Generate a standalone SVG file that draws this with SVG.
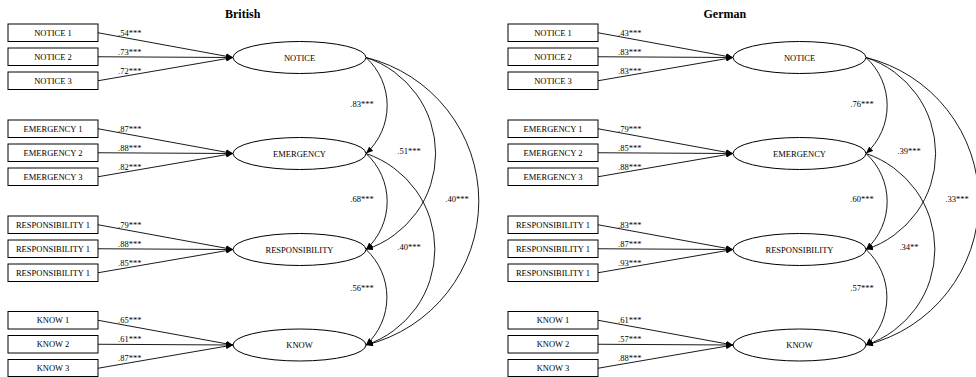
<svg xmlns="http://www.w3.org/2000/svg" width="976" height="377" viewBox="0 0 976 377">
<style>
text{font-family:"Liberation Serif","Times New Roman",serif;font-size:8.5px;fill:#000}
.t{font-size:12px;font-weight:bold}
.n text,.l{text-anchor:middle}
.n rect,.n ellipse{fill:#fff;stroke:#000;stroke-width:1}
.c path{fill:none;stroke:#000;stroke-width:0.9;marker-end:url(#ah)}
</style>
<defs>
<marker id="ah" markerUnits="userSpaceOnUse" markerWidth="8" markerHeight="6" refX="7" refY="3" orient="auto">
<path d="M0,0 L7,3 L0,6 z" fill="#000"/>
</marker>
</defs>
<rect width="976" height="377" fill="#fff"/>
<text class="t" x="225" y="18">British</text>
<text class="t" x="703.5" y="18">German</text>

<!-- British panel -->
<g id="british">
<g class="c" id="british-connectors">
<path d="M98,32.75 L233,57.5"/><path d="M98,56.75 L233,57.5"/><path d="M98,80.75 L233,57.5"/>
<path d="M98,128.75 L233,153.5"/><path d="M98,152.75 L233,153.5"/><path d="M98,176.75 L233,153.5"/>
<path d="M98,224.75 L233,249.5"/><path d="M98,248.75 L233,249.5"/><path d="M98,272.75 L233,249.5"/>
<path d="M98,320.25 L233,345"/><path d="M98,344.25 L233,345"/><path d="M98,368.25 L233,345"/>
<path d="M366,57.5 A65,65 0 0 1 366,153.5"/>
<path d="M366,153.5 A65,65 0 0 1 366,249.5"/>
<path d="M366,249.5 A65,65 0 0 1 366,345"/>
<path d="M366,57.5 A101,101 0 0 1 366,249.5"/>
<path d="M366,153.5 A101,101 0 0 1 366,345"/>
<path d="M366,57.5 A148,148 0 0 1 366,345"/>
</g>
<g id="british-labels">
<text x="118" y="35.5">.54***</text><text x="118" y="54.5">.73***</text><text x="118" y="73.5">.72***</text>
<text x="118" y="131.5">.87***</text><text x="118" y="150.5">.88***</text><text x="118" y="169.5">.82***</text>
<text x="118" y="227.5">.79***</text><text x="118" y="246.5">.88***</text><text x="118" y="265.5">.85***</text>
<text x="118" y="323">.65***</text><text x="118" y="342">.61***</text><text x="118" y="361">.87***</text>
<text class="l" x="362" y="106.5">.83***</text>
<text class="l" x="409" y="154">.51***</text>
<text class="l" x="457" y="202">.40***</text>
<text class="l" x="362" y="202">.68***</text>
<text class="l" x="409" y="249.5">.40***</text>
<text class="l" x="362" y="291">.56***</text>
</g>
<g class="n" id="british-notice1"><rect x="8" y="24" width="90" height="17.5"/><text x="53" y="35.75">NOTICE 1</text></g>
<g class="n" id="british-notice2"><rect x="8" y="48" width="90" height="17.5"/><text x="53" y="59.75">NOTICE 2</text></g>
<g class="n" id="british-notice3"><rect x="8" y="72" width="90" height="17.5"/><text x="53" y="83.75">NOTICE 3</text></g>
<g class="n" id="british-emergency1"><rect x="8" y="120" width="90" height="17.5"/><text x="53" y="131.75">EMERGENCY 1</text></g>
<g class="n" id="british-emergency2"><rect x="8" y="144" width="90" height="17.5"/><text x="53" y="155.75">EMERGENCY 2</text></g>
<g class="n" id="british-emergency3"><rect x="8" y="168" width="90" height="17.5"/><text x="53" y="179.75">EMERGENCY 3</text></g>
<g class="n" id="british-resp1"><rect x="8" y="216" width="90" height="17.5"/><text x="53" y="227.75">RESPONSIBILITY 1</text></g>
<g class="n" id="british-resp2"><rect x="8" y="240" width="90" height="17.5"/><text x="53" y="251.75">RESPONSIBILITY 1</text></g>
<g class="n" id="british-resp3"><rect x="8" y="264" width="90" height="17.5"/><text x="53" y="275.75">RESPONSIBILITY 1</text></g>
<g class="n" id="british-know1"><rect x="8" y="311.5" width="90" height="17.5"/><text x="53" y="323.25">KNOW 1</text></g>
<g class="n" id="british-know2"><rect x="8" y="335.5" width="90" height="17.5"/><text x="53" y="347.25">KNOW 2</text></g>
<g class="n" id="british-know3"><rect x="8" y="359.5" width="90" height="17"/><text x="53" y="371.25">KNOW 3</text></g>
<g class="n" id="british-notice"><ellipse cx="299.5" cy="57.5" rx="66.5" ry="16"/><text x="299.5" y="60.5">NOTICE</text></g>
<g class="n" id="british-emergency"><ellipse cx="299.5" cy="153.5" rx="66.5" ry="16"/><text x="299.5" y="156.5">EMERGENCY</text></g>
<g class="n" id="british-responsibility"><ellipse cx="299.5" cy="249.5" rx="66.5" ry="16"/><text x="299.5" y="252.5">RESPONSIBILITY</text></g>
<g class="n" id="british-know"><ellipse cx="299.5" cy="345" rx="66.5" ry="16"/><text x="299.5" y="348">KNOW</text></g>
</g>

<!-- German panel -->
<g id="german" transform="translate(500,0)">
<g class="c" id="german-connectors">
<path d="M98,32.75 L233,57.5"/><path d="M98,56.75 L233,57.5"/><path d="M98,80.75 L233,57.5"/>
<path d="M98,128.75 L233,153.5"/><path d="M98,152.75 L233,153.5"/><path d="M98,176.75 L233,153.5"/>
<path d="M98,224.75 L233,249.5"/><path d="M98,248.75 L233,249.5"/><path d="M98,272.75 L233,249.5"/>
<path d="M98,320.25 L233,345"/><path d="M98,344.25 L233,345"/><path d="M98,368.25 L233,345"/>
<path d="M366,57.5 A65,65 0 0 1 366,153.5"/>
<path d="M366,153.5 A65,65 0 0 1 366,249.5"/>
<path d="M366,249.5 A65,65 0 0 1 366,345"/>
<path d="M366,57.5 A101,101 0 0 1 366,249.5"/>
<path d="M366,153.5 A101,101 0 0 1 366,345"/>
<path d="M366,57.5 A148,148 0 0 1 366,345"/>
</g>
<g id="german-labels">
<text x="118" y="35.5">.43***</text><text x="118" y="54.5">.83***</text><text x="118" y="73.5">.83***</text>
<text x="118" y="131.5">.79***</text><text x="118" y="150.5">.85***</text><text x="118" y="169.5">.88***</text>
<text x="118" y="227.5">.83***</text><text x="118" y="246.5">.87***</text><text x="118" y="265.5">.93***</text>
<text x="118" y="323">.61***</text><text x="118" y="342">.57***</text><text x="118" y="361">.88***</text>
<text class="l" x="362" y="106.5">.76***</text>
<text class="l" x="409" y="154">.39***</text>
<text class="l" x="457" y="202">.33***</text>
<text class="l" x="362" y="202">.60***</text>
<text class="l" x="409" y="249.5">.34**</text>
<text class="l" x="362" y="291">.57***</text>
</g>
<g class="n" id="german-notice1"><rect x="8" y="24" width="90" height="17.5"/><text x="53" y="35.75">NOTICE 1</text></g>
<g class="n" id="german-notice2"><rect x="8" y="48" width="90" height="17.5"/><text x="53" y="59.75">NOTICE 2</text></g>
<g class="n" id="german-notice3"><rect x="8" y="72" width="90" height="17.5"/><text x="53" y="83.75">NOTICE 3</text></g>
<g class="n" id="german-emergency1"><rect x="8" y="120" width="90" height="17.5"/><text x="53" y="131.75">EMERGENCY 1</text></g>
<g class="n" id="german-emergency2"><rect x="8" y="144" width="90" height="17.5"/><text x="53" y="155.75">EMERGENCY 2</text></g>
<g class="n" id="german-emergency3"><rect x="8" y="168" width="90" height="17.5"/><text x="53" y="179.75">EMERGENCY 3</text></g>
<g class="n" id="german-resp1"><rect x="8" y="216" width="90" height="17.5"/><text x="53" y="227.75">RESPONSIBILITY 1</text></g>
<g class="n" id="german-resp2"><rect x="8" y="240" width="90" height="17.5"/><text x="53" y="251.75">RESPONSIBILITY 1</text></g>
<g class="n" id="german-resp3"><rect x="8" y="264" width="90" height="17.5"/><text x="53" y="275.75">RESPONSIBILITY 1</text></g>
<g class="n" id="german-know1"><rect x="8" y="311.5" width="90" height="17.5"/><text x="53" y="323.25">KNOW 1</text></g>
<g class="n" id="german-know2"><rect x="8" y="335.5" width="90" height="17.5"/><text x="53" y="347.25">KNOW 2</text></g>
<g class="n" id="german-know3"><rect x="8" y="359.5" width="90" height="17"/><text x="53" y="371.25">KNOW 3</text></g>
<g class="n" id="german-notice"><ellipse cx="299.5" cy="57.5" rx="66.5" ry="16"/><text x="299.5" y="60.5">NOTICE</text></g>
<g class="n" id="german-emergency"><ellipse cx="299.5" cy="153.5" rx="66.5" ry="16"/><text x="299.5" y="156.5">EMERGENCY</text></g>
<g class="n" id="german-responsibility"><ellipse cx="299.5" cy="249.5" rx="66.5" ry="16"/><text x="299.5" y="252.5">RESPONSIBILITY</text></g>
<g class="n" id="german-know"><ellipse cx="299.5" cy="345" rx="66.5" ry="16"/><text x="299.5" y="348">KNOW</text></g>
</g>
</svg>
